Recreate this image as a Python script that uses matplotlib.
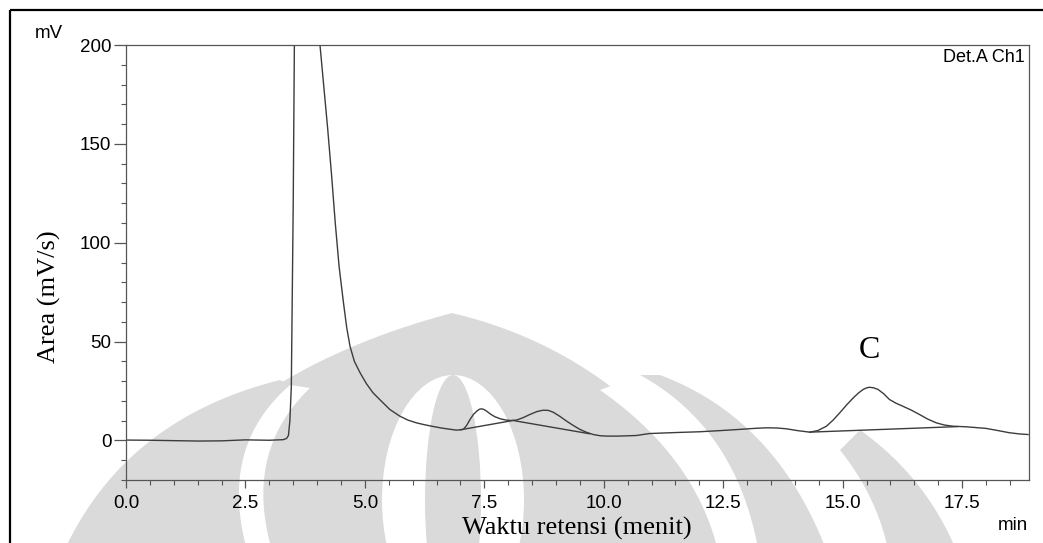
import numpy as np
import matplotlib.pyplot as plt
import matplotlib.patches as mpatches
import matplotlib.transforms as mtransforms
from matplotlib.ticker import MultipleLocator


# retention time (min) and detector signal (mV), Det.A Ch1
time_min = [0.0, 0.5, 1.0, 1.5, 2.0, 2.5, 3.0, 3.29, 3.36, 3.40, 3.43, 3.46,
            3.50, 3.53, 3.6, 3.8, 4.0, 4.06, 4.22, 4.30, 4.38, 4.46, 4.55,
            4.62, 4.69, 4.78, 4.90, 5.03, 5.17, 5.31, 5.52, 5.73, 5.90, 6.08,
            6.22, 6.40, 6.60, 6.80, 6.92, 7.06, 7.13, 7.20, 7.27, 7.34, 7.40,
            7.44, 7.49, 7.55, 7.63, 7.72, 7.84, 7.96, 8.06, 8.17, 8.30, 8.45,
            8.60, 8.73, 8.84, 8.94, 9.08, 9.22, 9.36, 9.50, 9.64, 9.78, 9.92,
            10.06, 10.30, 10.68, 10.96, 11.50, 12.01, 12.45, 12.85, 13.15,
            13.40, 13.62, 13.82, 14.05, 14.31, 14.48, 14.66, 14.80, 14.94,
            15.08, 15.22, 15.33, 15.43, 15.50, 15.56, 15.65, 15.74, 15.86,
            15.98, 16.12, 16.26, 16.44, 16.61, 16.78, 16.96, 17.13, 17.31,
            17.59, 18.00, 18.25, 18.49, 18.70, 18.88]
signal_mv = [0.2, 0.1, -0.1, -0.3, -0.2, 0.3, 0.1, 0.4, 1.0, 2.5, 10.0, 27.0,
             120.0, 220.0, 480.0, 650.0, 300.0, 200.0, 158.0, 135.0, 110.0,
             88.0, 70.0, 57.0, 47.5, 40.0, 34.2, 28.8, 24.1, 20.7, 15.7, 12.3,
             10.3, 8.9, 8.1, 7.2, 6.3, 5.6, 5.2, 5.6, 7.6, 10.6, 13.1, 14.8,
             15.8, 16.0, 15.7, 14.8, 13.3, 12.0, 10.9, 10.3, 10.1, 10.3, 11.4,
             13.1, 14.6, 15.3, 15.2, 14.3, 12.2, 9.8, 7.6, 5.6, 4.1, 3.0, 2.4,
             2.2, 2.2, 2.5, 3.5, 4.0, 4.4, 5.0, 5.6, 6.1, 6.4, 6.3, 5.9, 5.0,
             4.2, 5.0, 7.2, 10.3, 14.0, 17.9, 21.5, 24.0, 25.8, 26.6, 26.9,
             26.6, 25.8, 23.6, 20.7, 18.8, 17.3, 15.3, 13.1, 10.8, 8.9, 7.8,
             7.2, 6.9, 6.1, 5.0, 3.9, 3.3, 3.0]

# integration baselines under the small peaks
base1_time = [7.0, 8.1, 9.7]
base1_mv = [5.4, 10.1, 3.4]
base2_time = [14.31, 17.4]
base2_mv = [4.2, 7.0]

peak_name = 'C'
peak_time = 15.56
peak_mv = 26.9

W, H = 1043, 543
fig = plt.figure(figsize=(W / 100, H / 100), dpi=100)
# pixel coordinates, origin top left
px = mtransforms.Affine2D().scale(1 / W, -1 / H).translate(0, 1) + fig.transFigure


def bez(p0, p1, p2, n=40):
    s = np.linspace(0, 1, n)[:, None]
    p0, p1, p2 = np.array(p0), np.array(p1), np.array(p2)
    return (1 - s) ** 2 * p0 + 2 * (1 - s) * s * p1 + s ** 2 * p2


def band(a, b, color):
    pts = np.vstack([a, b[::-1]])
    fig.patches.append(mpatches.Polygon(pts, closed=True, transform=px,
                                        facecolor=color, edgecolor='none',
                                        zorder=-2))


# faint logo in the background
wm = '#dadada'
band(np.vstack([bez((120, 560), (200, 380), (452, 313)),
                bez((452, 313), (650, 360), (750, 560))]),
     np.array([[750, 560], [120, 560]]), wm)
band(bez((290, 385), (215, 450), (250, 560)),
     bez((310, 388), (240, 455), (275, 560)), 'white')
fig.patches.append(mpatches.Ellipse((453, 500), 142, 250, transform=px,
                                    facecolor='white', edgecolor='none',
                                    zorder=-2))
fig.patches.append(mpatches.Ellipse((453, 500), 56, 250, transform=px,
                                    facecolor=wm, edgecolor='none', zorder=-2))
band(bez((640, 375), (740, 430), (760, 560)),
     bez((600, 390), (700, 460), (720, 560)), 'white')
band(bez((660, 375), (780, 420), (830, 560)),
     bez((640, 375), (740, 430), (760, 560)), wm)
band(bez((860, 430), (930, 480), (960, 560)),
     bez((840, 450), (880, 500), (890, 560)), wm)
band(bez((60, 560), (120, 420), (280, 380)),
     bez((150, 560), (180, 440), (290, 385)), wm)

ax = fig.add_axes([126 / W, 1 - 480 / H, (1029 - 126) / W, (480 - 45) / H])
ax.patch.set_alpha(0)

line_col = '#3c3c3c'
ax.plot(time_min, signal_mv, color=line_col, lw=1.0)
ax.plot(base1_time, base1_mv, color=line_col, lw=1.0)
ax.plot(base2_time, base2_mv, color=line_col, lw=1.0)

ax.set_xlim(0, 18.9)
ax.set_ylim(-20, 200)
ax.xaxis.set_major_locator(MultipleLocator(2.5))
ax.xaxis.set_minor_locator(MultipleLocator(0.5))
ax.yaxis.set_major_locator(MultipleLocator(50))
ax.yaxis.set_minor_locator(MultipleLocator(10))
ax.xaxis.set_major_formatter(plt.FuncFormatter(lambda v, p: '%.1f' % v))

sans = 'Liberation Sans'
serif = 'Liberation Serif'
ax.tick_params(axis='y', which='major', length=9, width=0.9, pad=1.5,
               labelsize=13.5, color='#555555')
ax.tick_params(axis='y', which='minor', length=3.5, width=0.8, color='#555555')
ax.tick_params(axis='x', which='major', length=6, width=0.9, pad=5,
               labelsize=13.5, color='#555555')
ax.tick_params(axis='x', which='minor', length=3.5, width=0.8, color='#555555')
for lab in ax.get_xticklabels() + ax.get_yticklabels():
    lab.set_fontfamily(sans)
for s in ax.spines.values():
    s.set_color('#555555')
    s.set_linewidth(0.9)

ax.text(peak_time, peak_mv + 18.5, peak_name, ha='center', va='center',
        fontsize=23, family=serif)

fig.text(49, 34, 'mV', transform=px, ha='center', va='center',
         fontsize=13.5, family=sans)
fig.text(1025, 58, 'Det.A Ch1', transform=px, ha='right', va='center',
         fontsize=13, family=sans)
fig.text(1013, 526, 'min', transform=px, ha='center', va='center',
         fontsize=13.5, family=sans)
fig.text(49, 297, 'Area (mV/s)', transform=px, ha='center', va='center',
         rotation=90, fontsize=19, family=serif)
fig.text(577, 528, 'Waktu retensi (menit)', transform=px, ha='center',
         va='center', fontsize=19, family=serif)

# outer frame
fig.patches.append(mpatches.Rectangle((10, 10), 1100, 600, transform=px,
                                      fill=False, lw=1.6, edgecolor='black'))

fig.savefig('out.png', dpi=100)
